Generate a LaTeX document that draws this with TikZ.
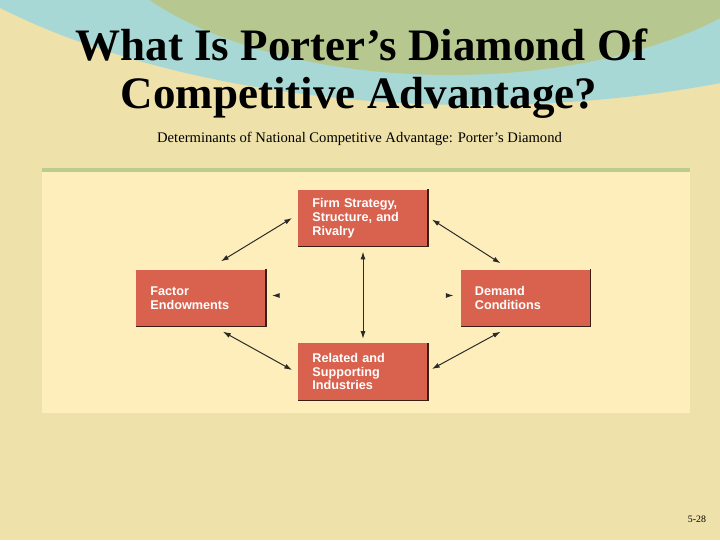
\documentclass[tikz,border=0pt]{standalone}
\usepackage{fontspec}
\setmainfont{Liberation Serif}
\setsansfont{Liberation Sans}
\usepackage{tikz}
\usetikzlibrary{arrows.meta,calc,positioning}

\definecolor{bgbeige}{HTML}{EEE1A9}
\definecolor{panelyellow}{HTML}{FDEEBB}
\definecolor{bandcyan}{HTML}{A8D8D5}
\definecolor{bandgreen}{HTML}{B6C78F}
\definecolor{rulegreen}{HTML}{BCCB8E}
\definecolor{boxred}{HTML}{D9624F}
\definecolor{edgedark}{HTML}{3B1E14}
\definecolor{arrowdark}{HTML}{2A2A2A}

\tikzset{
  detbox/.style={rectangle, fill=boxred, text=white, inner xsep=10pt, inner ysep=0pt,
    text width=72pt, minimum height=40.4pt, align=left,
    font=\sffamily\bfseries\fontsize{9}{9.8}\selectfont},
  boxedge/.style={draw=edgedark, line width=0.8pt},
  link/.style={draw=arrowdark, line width=0.7pt, <->,
    >={Latex[length=5.5pt,width=3.6pt,color=arrowdark]}},
  faintlink/.style={link, draw=panelyellow}
}

\begin{document}
\begin{tikzpicture}[x=0.025cm, y=-0.025cm]
    % background and bounding box
    \fill[bgbeige] (0,0) rectangle (720,540);
    \path[use as bounding box] (0,0) rectangle (720,540);

    % curved bands at the top
    \begin{scope}
        \clip (0,0) rectangle (720,540);
        \fill[bandcyan] (477,-200) ellipse [x radius=652, y radius=305];
        \fill[bandgreen] (450,-100) ellipse [x radius=366, y radius=175];
    \end{scope}

    % title
    \node[anchor=base, font=\bfseries\fontsize{32}{34}\selectfont] (title1) at (361.5,60) {What Is Porter’s Diamond Of};
    \node[anchor=base, font=\bfseries\fontsize{32}{34}\selectfont] (title2) at (359,108) {Competitive Advantage?};
    \node[anchor=base, font=\fontsize{10.4}{12}\selectfont] (subtitle) at (359.5,142) {Determinants of National Competitive Advantage: Porter’s Diamond};

    % panel
    \fill[panelyellow] (42,171) rectangle (690,413);
    \draw[rulegreen, line width=2.2pt] (42,170) -- (690,170);

    % the four determinants
    \node[detbox] (firm) at (363,218) {Firm Strategy,\\Structure, and\\Rivalry};
    \node[detbox] (fac) at (201,298) {Factor\\Endowments};
    \node[detbox] (dem) at (525.5,298) {Demand\\Conditions};
    \node[detbox] (rel) at (363,371.5) {Related and\\Supporting\\Industries};
    \foreach \n in {firm,fac,dem,rel}
        \draw[boxedge] (\n.north east) -- (\n.south east) -- (\n.south west);

    % links
    \draw[faintlink] ($(fac.east)+(6,-2.5)$) -- ($(dem.west)+(-7,-2.5)$);
    \draw[link] ($(fac.north east)+(-45,-8)$) -- ($(firm.west)+(-6,0)$);
    \draw[link] ($(firm.east)+(4,1.5)$) -- ($(dem.north west)+(40,-6)$);
    \draw[link] ($(fac.south east)+(-43,5)$) -- ($(rel.west)+(-6,-1.5)$);
    \draw[link] ($(rel.east)+(4,-2.5)$) -- ($(dem.south west)+(40,5)$);
    \draw[link] ($(firm.south)+(0,5)$) -- ($(rel.north)+(0,-4)$);

    % page number
    \node[font=\fontsize{7}{8}\selectfont] (pageno) at (697,519) {5-28};
\end{tikzpicture}
\end{document}
